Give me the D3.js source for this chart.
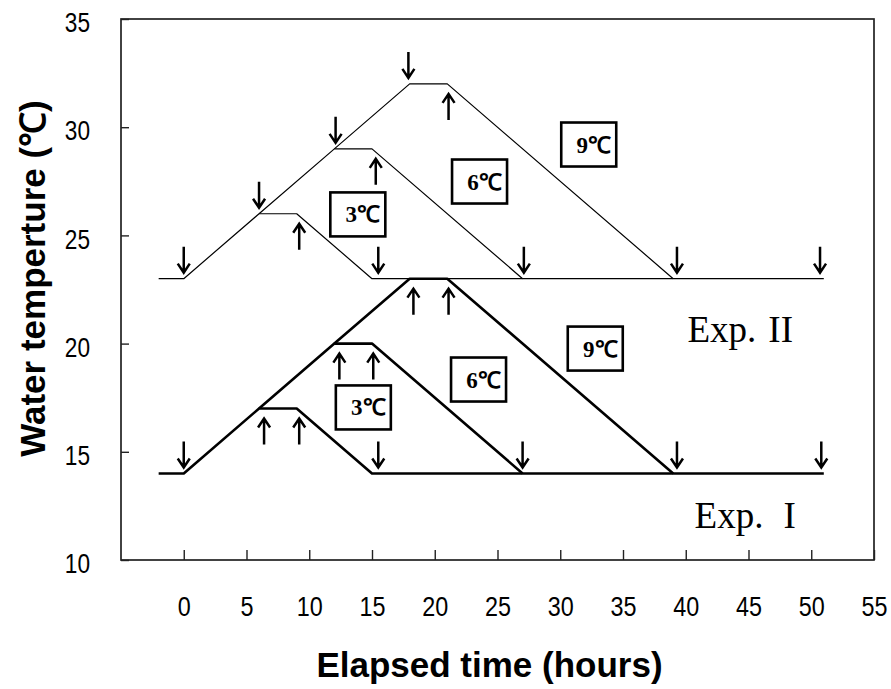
<!DOCTYPE html>
<html><head><meta charset="utf-8">
<script src="https://cdn.jsdelivr.net/npm/d3@7"></script>
<style>body{margin:0;background:#fff;} svg{display:block;}</style>
</head><body>
<svg id="chart" width="891" height="689"></svg>
<script>
// ---------- data ----------
// Exp. II (thin line): baseline 23 °C
const exp2BaseTime = [-2, 0, 6, 9, 15, 51];
const exp2BaseTemp = [23, 23, 26, 26, 23, 23];
const exp2SixTime  = [6, 12, 15, 27];
const exp2SixTemp  = [26, 29, 29, 23];
const exp2NineTime = [12, 18, 21, 39];
const exp2NineTemp = [29, 32, 32, 23];
// Exp. I (thick line): baseline 14 °C
const exp1BaseTime = [-2, 0, 6, 9, 15, 51];
const exp1BaseTemp = [14, 14, 17, 17, 14, 14];
const exp1SixTime  = [6, 12, 15, 27];
const exp1SixTemp  = [17, 20, 20, 14];
const exp1NineTime = [12, 18, 21, 39];
const exp1NineTemp = [20, 23, 23, 14];

// arrows (sampling points)
const exp2DownTime = [0, 6, 12.1, 17.9, 15.5, 27.1, 39.3, 50.7];
const exp2DownTemp = [23, 26, 29, 32, 23, 23, 23, 23];
const exp2UpTime   = [9.2, 15.3, 21.1];
const exp2UpTemp   = [26, 29, 32];
const exp1DownTime = [0, 15.5, 27, 39.3, 50.8];
const exp1DownTemp = [14, 14, 14, 14, 14];
const exp1UpTime   = [6.4, 9.2, 12.4, 15.1, 18.3, 21.1];
const exp1UpTemp   = [17, 17, 20, 20, 23, 23];

// boxed amplitude labels
const boxLabels = ["3℃", "6℃", "9℃", "3℃", "6℃", "9℃"];
const boxTime   = [13.87, 23.57, 32.27, 14.31, 23.49, 32.79];
const boxTemp   = [25.97, 27.49, 29.2, 17.05, 18.34, 19.77];

// experiment labels
const expLabels  = ["Exp.", "Exp."];
const expNumeral = ["II", "I"];
const expTime    = [40.14, 40.7];
const expTemp    = [20.07, 11.48];

// axes
const xTicks = [0, 5, 10, 15, 20, 25, 30, 35, 40, 45, 50, 55];
const yTicks = [10, 15, 20, 25, 30, 35];
const xTitle = "Elapsed time (hours)";
const yTitle = "Water temperture (℃)";

// ---------- drawing ----------
const svg = d3.select("#chart");
const x = d3.scaleLinear().domain([-5, 55]).range([121, 874]);
const y = d3.scaleLinear().domain([10, 35]).range([560, 19]);

const tickFont = "'Liberation Sans',Arial,sans-serif";

// frame
svg.append("rect")
  .attr("x", x(-5)).attr("y", y(35))
  .attr("width", x(55) - x(-5)).attr("height", y(10) - y(35))
  .attr("fill", "none").attr("stroke", "#222").attr("stroke-width", 1.7);

// x axis
const gx = svg.append("g").attr("transform", `translate(0,${y(10)})`)
  .call(d3.axisBottom(x).tickValues(xTicks).tickSizeInner(-10).tickSizeOuter(0).tickPadding(37));
gx.select(".domain").remove();
gx.selectAll(".tick line").attr("stroke", "#222").attr("stroke-width", 1.4);
gx.selectAll(".tick text").attr("font-family", tickFont).attr("font-size", 27).attr("fill", "#000")
  .attr("textLength", function() { return this.textContent.length * 13; })
  .attr("lengthAdjust", "spacingAndGlyphs");

// y axis
const gy = svg.append("g").attr("transform", `translate(${x(-5)},0)`)
  .call(d3.axisLeft(y).tickValues(yTicks).tickSizeInner(-8).tickSizeOuter(0).tickPadding(31));
gy.select(".domain").remove();
gy.selectAll(".tick line").attr("stroke", "#222").attr("stroke-width", 1.4);
gy.selectAll(".tick text").attr("font-family", tickFont).attr("font-size", 27)
  .attr("fill", "#000").attr("dy", "0.47em")
  .attr("textLength", function() { return this.textContent.length * 12.6; })
  .attr("lengthAdjust", "spacingAndGlyphs");

// titles
svg.append("text").attr("x", 489.5).attr("y", 677).attr("text-anchor", "middle")
  .attr("font-family", "'Liberation Sans',Arial,sans-serif").attr("font-weight", "bold")
  .attr("font-size", 35).text(xTitle);
svg.append("text").attr("transform", "translate(45,278.5) rotate(-90)").attr("text-anchor", "middle")
  .attr("font-family", "'Liberation Sans',Arial,sans-serif").attr("font-weight", "bold")
  .attr("font-size", 35).text(yTitle);

// lines
const line = d3.line().x(d => x(d[0])).y(d => y(d[1]));
const zip = (a, b) => a.map((v, i) => [v, b[i]]);
const thin = [[exp2BaseTime, exp2BaseTemp], [exp2SixTime, exp2SixTemp], [exp2NineTime, exp2NineTemp]];
const thick = [[exp1BaseTime, exp1BaseTemp], [exp1SixTime, exp1SixTemp], [exp1NineTime, exp1NineTemp]];
svg.append("g").selectAll("path").data(thin).join("path")
  .attr("d", d => line(zip(d[0], d[1])))
  .attr("fill", "none").attr("stroke", "#000").attr("stroke-width", 1.2).attr("stroke-linejoin", "round");
svg.append("g").selectAll("path").data(thick).join("path")
  .attr("d", d => line(zip(d[0], d[1])))
  .attr("fill", "none").attr("stroke", "#000").attr("stroke-width", 2.6).attr("stroke-linejoin", "round");

// arrows
const arrowLen = 26, gapDown = 6, gapUp = 10, headW = 6, headH = 9;
function downArrow(px, py) {
  const tip = py - gapDown, tail = tip - arrowLen;
  return `M${px},${tail}L${px},${tip}M${px - headW},${tip - headH}L${px},${tip}L${px + headW},${tip - headH}`;
}
function upArrow(px, py) {
  const tip = py + gapUp, tail = tip + arrowLen;
  return `M${px},${tail}L${px},${tip}M${px - headW},${tip + headH}L${px},${tip}L${px + headW},${tip + headH}`;
}
const gA = svg.append("g").attr("fill", "none").attr("stroke", "#000").attr("stroke-width", 2.5);
gA.selectAll(".d2").data(zip(exp2DownTime, exp2DownTemp)).join("path").attr("d", d => downArrow(x(d[0]), y(d[1])));
gA.selectAll(".u2").data(zip(exp2UpTime, exp2UpTemp)).join("path").attr("d", d => upArrow(x(d[0]), y(d[1])));
gA.selectAll(".d1").data(zip(exp1DownTime, exp1DownTemp)).join("path").attr("d", d => downArrow(x(d[0]), y(d[1])));
gA.selectAll(".u1").data(zip(exp1UpTime, exp1UpTemp)).join("path").attr("d", d => upArrow(x(d[0]), y(d[1])));

// boxes
const boxW = 55, boxH = 44;
const gb = svg.append("g").selectAll("g").data(boxLabels.map((l, i) => ({l, t: boxTime[i], v: boxTemp[i]}))).join("g")
  .attr("transform", d => `translate(${x(d.t)},${y(d.v)})`);
gb.append("rect").attr("x", -boxW / 2).attr("y", -boxH / 2).attr("width", boxW).attr("height", boxH)
  .attr("fill", "#fff").attr("stroke", "#000").attr("stroke-width", 2.6);
gb.append("text").attr("x", 5).attr("y", 8).attr("text-anchor", "middle")
  .attr("font-family", "'Liberation Serif','Times New Roman',serif").attr("font-weight", "bold")
  .attr("font-size", 23).text(d => d.l);

// experiment labels
const ge = svg.append("g").selectAll("text").data(expLabels.map((l, i) => ({l, n: expNumeral[i], t: expTime[i], v: expTemp[i]}))).join("text")
  .attr("x", d => x(d.t)).attr("y", d => y(d.v))
  .attr("font-family", "'Liberation Serif','Times New Roman',serif").attr("font-size", 37);
ge.append("tspan").text(d => d.l);
ge.append("tspan").attr("dx", d => d.n.length > 1 ? 12 : 20).text(d => d.n);
</script>
</body></html>
